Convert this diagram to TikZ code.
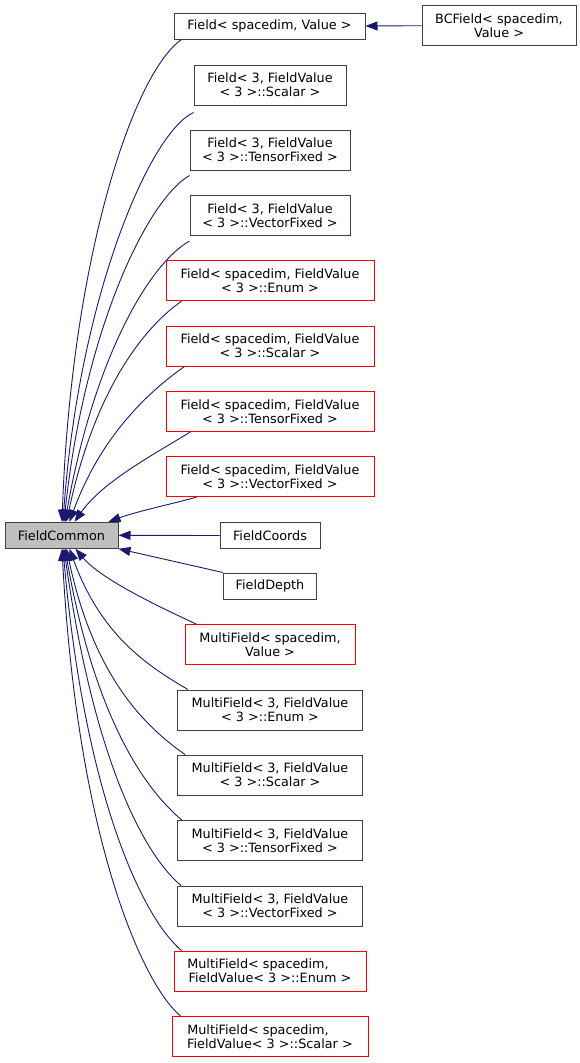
\documentclass[tikz,border=0pt]{standalone}
\usepackage{fontspec}
\setmainfont{DejaVu Sans}
\usepackage{xcolor}
\usetikzlibrary{arrows.meta, calc}

\definecolor{edgeblue}{RGB}{25,25,112}
\definecolor{boxgrey}{RGB}{64,64,64}
\definecolor{basefill}{RGB}{191,191,191}

\begin{document}
\begin{tikzpicture}[x=1pt, y=-1pt,
    every node/.style={font=\fontsize{12.8}{14}\selectfont, align=center, inner sep=0pt},
    cls/.style={draw=boxgrey, fill=white, line width=1pt, minimum height=40pt},
    clsred/.style={cls, draw=red},
    base/.style={cls, fill=basefill, minimum height=26pt},
    inh/.style={draw=edgeblue, line width=0.9pt, -{Triangle[length=12pt,width=9pt]}}]
    \useasboundingbox (0,0) rectangle (579,1063);

    % Base class
    \node[base, minimum width=113pt] (fc) at (61.5,535.3) {FieldCommon};

    % Field classes (upper part)
    \node[cls, minimum width=191pt, minimum height=26pt] (fsval) at (269.5,26) {Field< spacedim, Value >};
    \node[cls, minimum width=154pt] (bc) at (499,25.7) {BCField< spacedim,\\Value >};
    \node[cls, minimum width=152pt] (f3s) at (270,85) {Field< 3, FieldValue\\< 3 >::Scalar >};
    \node[cls, minimum width=160pt] (f3t) at (270,150) {Field< 3, FieldValue\\< 3 >::TensorFixed >};
    \node[cls, minimum width=160pt] (f3v) at (270,215.5) {Field< 3, FieldValue\\< 3 >::VectorFixed >};
    \node[clsred, minimum width=208pt] (fse) at (270,280.7) {Field< spacedim, FieldValue\\< 3 >::Enum >};
    \node[clsred, minimum width=208pt] (fss) at (270,346) {Field< spacedim, FieldValue\\< 3 >::Scalar >};
    \node[clsred, minimum width=208pt] (fst) at (270,411.3) {Field< spacedim, FieldValue\\< 3 >::TensorFixed >};
    \node[clsred, minimum width=208pt] (fsv) at (270,476.7) {Field< spacedim, FieldValue\\< 3 >::VectorFixed >};

    % Direct children beside the base
    \node[cls, minimum width=100pt, minimum height=26pt] (coords) at (270,535.5) {FieldCoords};
    \node[cls, minimum width=93pt, minimum height=26pt] (depth) at (270,586) {FieldDepth};

    % MultiField classes (lower part)
    \node[clsred, minimum width=170pt] (msval) at (270,644.7) {MultiField< spacedim,\\Value >};
    \node[cls, minimum width=185pt] (m3e) at (270,710) {MultiField< 3, FieldValue\\< 3 >::Enum >};
    \node[cls, minimum width=185pt] (m3s) at (270,775) {MultiField< 3, FieldValue\\< 3 >::Scalar >};
    \node[cls, minimum width=185pt] (m3t) at (270,840.7) {MultiField< 3, FieldValue\\< 3 >::TensorFixed >};
    \node[cls, minimum width=185pt] (m3v) at (270,906) {MultiField< 3, FieldValue\\< 3 >::VectorFixed >};
    \node[clsred, minimum width=192pt] (mse) at (270,971) {MultiField< spacedim,\makebox[24pt]{}\\FieldValue< 3 >::Enum >};
    \node[clsred, minimum width=196pt] (mss) at (270,1036.5) {MultiField< spacedim,\makebox[24pt]{}\\FieldValue< 3 >::Scalar >};

    % Inheritance edges (y points down, so angles are mirrored)
    \draw[inh] (bc.west) -- (fsval.east);
    \draw[inh] ([xshift=8]fsval.south west) .. controls +(145:60) and +(-88:260) .. ([xshift=0.5]fc.north);
    \draw[inh] ([yshift=-7]f3s.south west) .. controls +(155:50) and +(-86:220) .. ([xshift=1.5]fc.north);
    \draw[inh] ([yshift=-5]f3t.south west) .. controls +(150:50) and +(-84:190) .. ([xshift=2.5]fc.north);
    \draw[inh] ([yshift=-5]f3v.south west) .. controls +(150:50) and +(-80:160) .. ([xshift=3.5]fc.north);
    \draw[inh] ([xshift=16]fse.south west) .. controls +(145:50) and +(-78:130) .. ([xshift=5]fc.north);
    \draw[inh] ([xshift=19]fss.south west) .. controls +(145:45) and +(-70:90) .. ([xshift=8]fc.north);
    \draw[inh] ([xshift=25]fst.south west) .. controls +(148:40) and +(-55:50) .. ([xshift=13]fc.north);
    \draw[inh] ([xshift=31]fsv.south west) .. controls +(165:30) and +(-20:30) .. ([xshift=-10]fc.north east);
    \draw[inh] (coords.west) -- (fc.east);
    \draw[inh] (depth.north west) -- (fc.south east);
    \draw[inh] ([xshift=12]msval.north west) .. controls +(-155:40) and +(50:40) .. ([xshift=14]fc.south);
    \draw[inh] ([xshift=11]m3e.north west) .. controls +(-150:50) and +(70:90) .. ([xshift=8]fc.south);
    \draw[inh] ([xshift=8]m3s.north west) .. controls +(-145:50) and +(78:130) .. ([xshift=5]fc.south);
    \draw[inh] ([xshift=5]m3t.north west) .. controls +(-140:50) and +(80:170) .. ([xshift=3.5]fc.south);
    \draw[inh] ([xshift=4]m3v.north west) .. controls +(-140:50) and +(82:210) .. ([xshift=2.5]fc.south);
    \draw[inh] ([xshift=8]mse.north west) .. controls +(-140:50) and +(85:250) .. ([xshift=1.5]fc.south);
    \draw[inh] ([xshift=9]mss.north west) .. controls +(-140:50) and +(87:290) .. ([xshift=0.5]fc.south);
\end{tikzpicture}
\end{document}
